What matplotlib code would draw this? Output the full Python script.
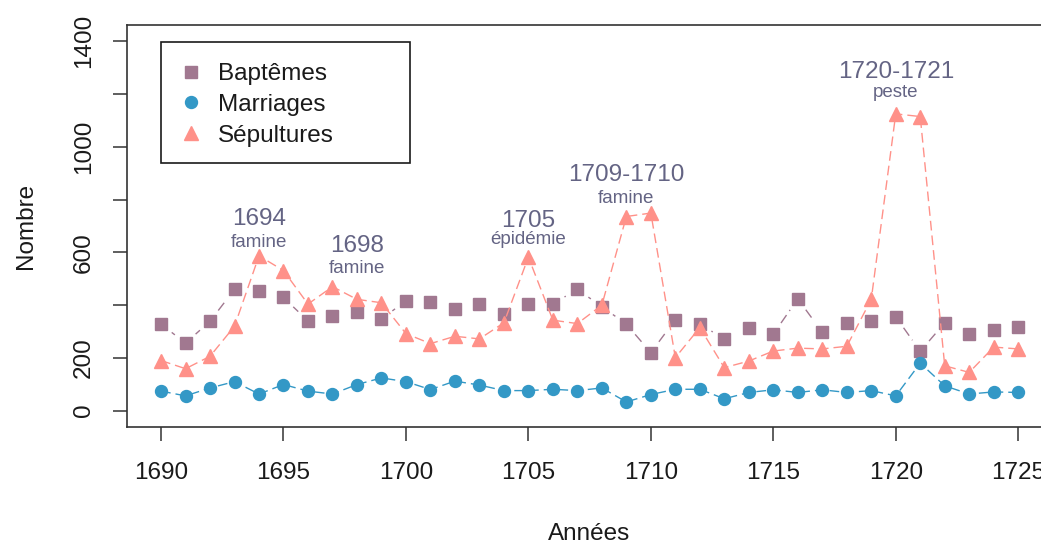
import numpy as np
import matplotlib
matplotlib.use("Agg")
import matplotlib.pyplot as plt
from matplotlib.lines import Line2D
from matplotlib.patches import Rectangle

plt.rcParams['font.family'] = ['Liberation Sans', 'DejaVu Sans']
plt.rcParams['lines.scale_dashes'] = False

# ---------------- data ----------------
years = list(range(1690, 1726))
baptemes = [328, 256, 339, 460, 453, 429, 340, 358, 375, 348, 416, 411,
            385, 405, 366, 405, 405, 460, 394, 328, 220, 345, 328, 272,
            312, 290, 424, 297, 333, 339, 356, 225, 333, 290, 305, 317]
mariages = [74, 56, 86, 110, 63, 99, 74, 63, 99, 124, 110, 80,
            112, 97, 76, 76, 81, 76, 86, 33, 61, 81, 81, 45,
            69, 79, 69, 79, 69, 76, 56, 180, 94, 63, 71, 69]
sepultures = [190, 159, 206, 320, 587, 531, 404, 470, 422, 409, 292, 254,
              282, 272, 333, 582, 343, 330, 400, 736, 749, 201, 315, 163,
              188, 226, 237, 234, 244, 422, 1125, 1115, 170, 145, 241, 234]
series_labels = ["Baptêmes", "Marriages", "Sépultures"]

x_ticks = [1690, 1695, 1700, 1705, 1710, 1715, 1720, 1725]
y_ticks = [0, 200, 400, 600, 800, 1000, 1200, 1400]
y_ticklabels = ["0", "200", "", "600", "", "1000", "", "1400"]

# annotations: (x, y of main label, main text, y of sub label, sub text)
ann_x = [1694, 1698, 1705, 1709, 1720]
ann_main_y = [705, 603, 698, 870, 1261]
ann_main = ["1694", "1698", "1705", "1709-1710", "1720-1721"]
ann_sub_y = [621, 522, 632, 789, 1189]
ann_sub = ["famine", "famine", "épidémie", "famine", "peste"]

# ---------------- style ----------------
col_b = '#A17890'
col_m = '#3398C6'
col_s = '#FF9189'
col_txt = '#646484'
W, H = 1041, 545

fig = plt.figure(figsize=(W / 100, H / 100), dpi=100)
L, R, T, B = 127, 1052, 25, 427
ax = fig.add_axes([L / W, (H - B) / H, (R - L) / W, (B - T) / H])
ax.set_xlim(1688.61, 1726.38)
ax.set_ylim(-62, 1462)


def ax_px(px, py):
    """pixel position (from top-left of figure) -> axes fraction"""
    return (px - L) / (R - L), (B - py) / (B - T)


dash = (7, 3.6)


def gapped(xs, ys, gap, color):
    pts = ax.transData.transform(np.column_stack([xs, ys]))
    inv = ax.transData.inverted()
    for i in range(len(pts) - 1):
        p0, p1 = pts[i], pts[i + 1]
        d = p1 - p0
        n = np.hypot(*d)
        if n <= 2 * gap + 1:
            continue
        u = d / n
        a = inv.transform(p0 + u * gap)
        b = inv.transform(p1 - u * gap)
        ln, = ax.plot([a[0], b[0]], [a[1], b[1]], color=color, lw=1.0)
        ln.set_dashes(dash)


# Baptêmes (type b, with gaps)
gapped(years, baptemes, 13.5, col_b)
ax.plot(years, baptemes, linestyle='none', marker='s', ms=9.2,
        color=col_b, mec=col_b, zorder=3)
# Marriages
l, = ax.plot(years, mariages, color=col_m, lw=1.0, marker='o', ms=8.6,
             zorder=3)
l.set_dashes(dash)
# Sépultures
l, = ax.plot(years, sepultures, color=col_s, lw=1.0, marker='^', ms=10.5,
             zorder=4)
l.set_dashes(dash)

for xx, ym, tm, ys, ts in zip(ann_x, ann_main_y, ann_main, ann_sub_y, ann_sub):
    ax.text(xx, ym, tm, ha='center', va='baseline', fontsize=17.5,
            color=col_txt)
    ax.text(xx, ys, ts, ha='center', va='baseline', fontsize=13.5,
            color=col_txt)

# axes
ax.set_xticks(x_ticks)
ax.set_xticklabels([str(v) for v in x_ticks])
ax.set_yticks(y_ticks)
ax.set_yticklabels(y_ticklabels, rotation=90, va='center')
ax.tick_params(axis='both', length=10, width=1.1, color='#333333',
               labelsize=17.5, labelcolor='#1a1a1a')
ax.tick_params(axis='x', pad=15)
ax.tick_params(axis='y', pad=13)
for s in ax.spines.values():
    s.set_linewidth(1.2)
    s.set_color('#333333')

ax.set_xlabel("Années", fontsize=17.5, color='#1a1a1a', labelpad=28)
ax.set_ylabel("Nombre", fontsize=17.5, color='#1a1a1a', labelpad=26)

# legend: box drawn separately to match the wide R legend frame
x0, y1 = ax_px(161, 42)
x1, y0 = ax_px(410, 163)
ax.add_patch(Rectangle((x0, y0), x1 - x0, y1 - y0, transform=ax.transAxes,
                       facecolor='white', edgecolor='#1a1a1a', lw=1.2,
                       zorder=9))
handles = [
    Line2D([], [], linestyle='none', marker='s', ms=9.2, color=col_b),
    Line2D([], [], linestyle='none', marker='o', ms=8.6, color=col_m),
    Line2D([], [], linestyle='none', marker='^', ms=10.5, color=col_s),
]
leg = ax.legend(handles, series_labels, loc='upper left',
                bbox_to_anchor=ax_px(178, 63),
                borderaxespad=0, borderpad=0, fontsize=17.5, frameon=False,
                handlelength=1.1, handletextpad=0.55, labelspacing=0.36)
for t in leg.get_texts():
    t.set_color('#1a1a1a')
leg.set_zorder(10)

fig.savefig("out.png", dpi=100)
